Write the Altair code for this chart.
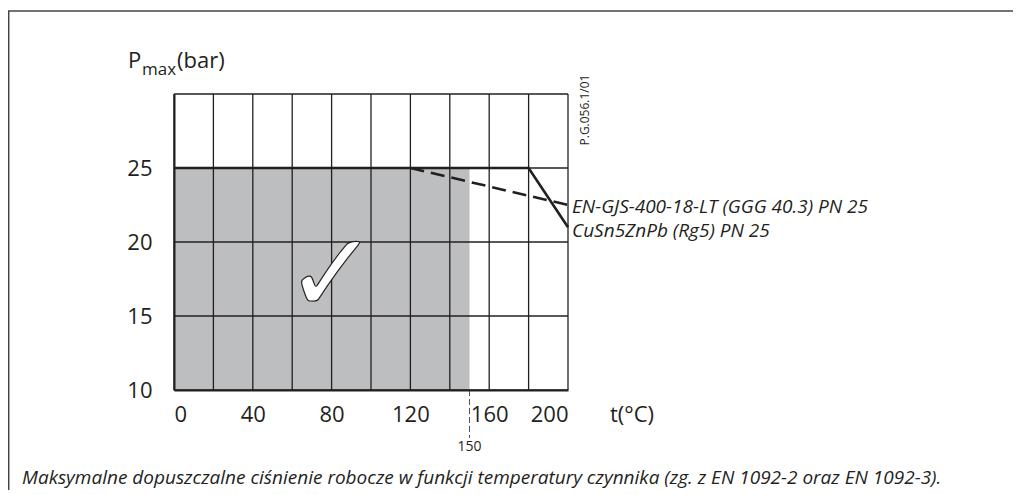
import altair as alt
import pandas as pd

# ---- data ----
cu_t = [0, 180, 200]
cu_p = [25, 25, 21]
en_t = [120, 200]
en_p = [25, 22.5]
shade_t = [0, 150]
shade_p = [10, 25]
x_ticks = [0, 20, 40, 60, 80, 100, 120, 140, 160, 180, 200]
y_ticks = [10, 15, 20, 25, 30]
limit_t = [150]
label_en = "EN-GJS-400-18-LT (GGG 40.3) PN 25"
label_cu = "CuSn5ZnPb (Rg5) PN 25"
caption = "Maksymalne dopuszczalne ciśnienie robocze w funkcji temperatury czynnika (zg. z EN 1092-2 oraz EN 1092-3)."
code = "P.G.056.1/01"

W, H = 394, 296
FONT = "Open Sans"
INK = "#231f20"

xs = alt.Scale(domain=[0, 200], nice=False)
ys = alt.Scale(domain=[10, 30], nice=False)

shade_df = pd.DataFrame({"t": [shade_t[0]], "t2": [shade_t[1]], "p": [shade_p[0]], "p2": [shade_p[1]]})
cu_df = pd.DataFrame({"t": cu_t, "p": cu_p})
en_df = pd.DataFrame({"t": en_t, "p": en_p})
lim_df = pd.DataFrame({"t": limit_t})
xg_df = pd.DataFrame({"t": x_ticks})
yg_df = pd.DataFrame({"p": y_ticks})

shade = alt.Chart(shade_df).mark_rect(color="#bcbec0").encode(
    x=alt.X("t:Q", scale=xs, axis=alt.Axis(
        values=x_ticks, grid=False, ticks=False,
        domainColor=INK, domainWidth=2, labelFont=FONT, labelFontSize=22,
        labelColor=INK, labelPadding=14, title=None, zindex=1,
        labelExpr="datum.value % 40 == 0 ? datum.label : ''")),
    x2="t2:Q",
    y=alt.Y("p:Q", scale=ys, axis=alt.Axis(
        values=y_ticks, grid=False, ticks=False,
        domainColor=INK, domainWidth=2, labelFont=FONT, labelFontSize=22,
        labelColor=INK, labelPadding=22, title=None, zindex=1,
        labelExpr="datum.value < 30 ? datum.label : ''")),
    y2="p2:Q",
)

xgrid = alt.Chart(xg_df).mark_rule(color=INK, strokeWidth=1.3).encode(
    x=alt.X("t:Q", scale=xs))
ygrid = alt.Chart(yg_df).mark_rule(color=INK, strokeWidth=1.3).encode(
    y=alt.Y("p:Q", scale=ys))

limit_rule = alt.Chart(lim_df).mark_rule(color="#555555", strokeWidth=1, strokeDash=[6, 3]).encode(
    x=alt.X("t:Q", scale=xs), y=alt.value(H), y2=alt.value(H + 48))
limit_txt = alt.Chart(lim_df).mark_text(font=FONT, fontSize=14, color=INK, baseline="middle").encode(
    x=alt.X("t:Q", scale=xs), y=alt.value(H + 57), text=alt.Text("t:Q"))

cu_line = alt.Chart(cu_df).mark_line(color=INK, strokeWidth=2.6).encode(
    x=alt.X("t:Q", scale=xs), y=alt.Y("p:Q", scale=ys))
en_line = alt.Chart(en_df).mark_line(color=INK, strokeWidth=2.6, strokeDash=[14, 7]).encode(
    x=alt.X("t:Q", scale=xs), y=alt.Y("p:Q", scale=ys))

check = alt.Chart(pd.DataFrame({"t": [80], "p": [17.6]})).mark_text(
    text="✓", font="DejaVu Sans", fontSize=112, color="white", stroke=INK, strokeWidth=1.2,
    baseline="middle", align="center").encode(
    x=alt.X("t:Q", scale=xs), y=alt.Y("p:Q", scale=ys))

def txt(s, x, y, size, align="left", baseline="middle", style="normal", angle=0):
    return alt.Chart(pd.DataFrame({"s": [s]})).mark_text(
        font=FONT, fontSize=size, color=INK, align=align, baseline=baseline,
        fontStyle=style, angle=angle).encode(
        x=alt.value(x), y=alt.value(y), text="s:N")

ann = [
    txt(label_en, 398, 113, 19, style="italic"),
    txt(label_cu, 398, 137, 19, style="italic"),
    txt("t(°C)", 436, 321, 22),
    txt("P", -46, -26, 22, baseline="alphabetic"),
    txt("max", -32, -19, 17, baseline="alphabetic"),
    txt("(bar)", 3, -26, 22, baseline="alphabetic"),
    txt(code, 411, 16, 12, align="center", angle=270),
    txt(caption, -152, 384, 19, style="italic"),
]

frame_top = alt.Chart(pd.DataFrame({"a": [0]})).mark_rule(color="#444444", strokeWidth=1.5).encode(
    x=alt.value(-166), x2=alt.value(W + 445), y=alt.value(-83))
frame_left = alt.Chart(pd.DataFrame({"a": [0]})).mark_rule(color="#444444", strokeWidth=1.5).encode(
    x=alt.value(-165.3), y=alt.value(-83), y2=alt.value(H + 100))

chart = alt.layer(shade, xgrid, ygrid, limit_rule, limit_txt, en_line, cu_line, check, *ann,
                  frame_top, frame_left).properties(
    width=W, height=H,
    autosize=alt.AutoSizeParams(type="none"),
    padding={"left": 166, "top": 86, "right": 445, "bottom": 100},
).configure_view(stroke=None)

chart.save("out.html", embed_options={"renderer": "svg", "actions": False})
